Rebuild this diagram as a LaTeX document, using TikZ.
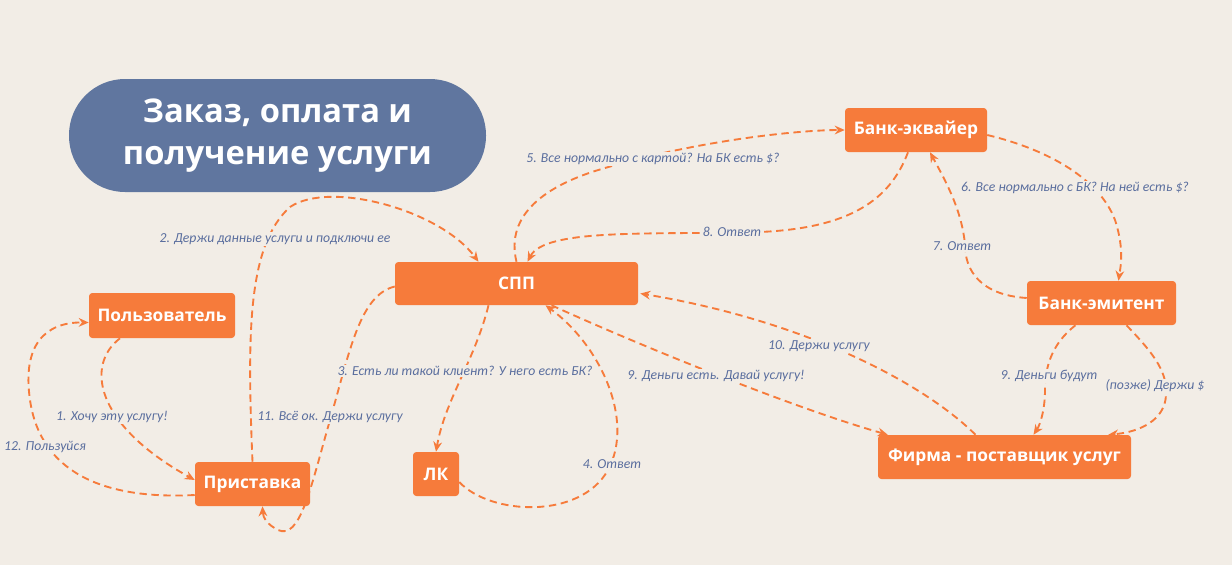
\documentclass[tikz,border=0pt]{standalone}
\usepackage{fontspec}
\setmainfont{Carlito}
\newfontfamily\boxfont{Open Sans}
\usetikzlibrary{calc,arrows.meta}
\definecolor{bg}{HTML}{F2EDE6}
\definecolor{org}{HTML}{F67B3B}
\definecolor{ttl}{HTML}{60769F}
\definecolor{lbl}{HTML}{5A6E9E}
\tikzset{
  box/.style={fill=org,rounded corners=2.5pt,inner sep=0pt,text=white,font=\boxfont\bfseries\fontsize{13}{15}\selectfont},
  conn/.style={draw=org,line width=1.4pt,dash pattern=on 5.5pt off 3.5pt,-{Stealth[length=7.5pt,width=6.5pt]}},
  lab/.style={fill=bg,inner sep=1pt,text=lbl,font=\itshape\fontsize{10.3}{12}\selectfont}
}
\begin{document}
\begin{tikzpicture}[x=0.75pt,y=-0.75pt]
\fill[bg] (0,0) rectangle (1232,565);
\useasboundingbox (0,0) rectangle (1232,565);
% title
\node[fill=ttl,rounded corners=42pt,minimum width={417*0.75pt},minimum height={113*0.75pt},inner sep=0pt,text=white,align=center,font=\boxfont\bfseries\fontsize{24.5}{32}\selectfont] (title) at (277.5,135.5) {Заказ, оплата и\\получение услуги};
% nodes
\node[box,minimum width={243*0.75pt},minimum height={43*0.75pt}] (spp) at (516.5,283.5) {СПП};
\node[box,minimum width={146*0.75pt},minimum height={45*0.75pt}] (user) at (162,315.5) {Пользователь};
\node[box,minimum width={115*0.75pt},minimum height={44*0.75pt}] (box) at (252.5,484) {Приставка};
\node[box,minimum width={46*0.75pt},minimum height={44*0.75pt}] (lk) at (436,474) {ЛК};
\node[box,minimum width={142*0.75pt},minimum height={44*0.75pt}] (banka) at (916,130) {Банк-эквайер};
\node[box,minimum width={149*0.75pt},minimum height={44*0.75pt}] (bankb) at (1101.5,303) {Банк-эмитент};
\node[box,minimum width={253*0.75pt},minimum height={44*0.75pt}] (firm) at (1004.5,457) {Фирма - поставщик услуг};
% connectors
\draw[conn] ($(user.south)+(-42,0)$) .. controls (85,365) and (95,425) .. ($(box.west)+(0,-4)$);
\draw[conn] ($(box.west)+(0,11)$) .. controls (100,500) and (40,470) .. (30,400) .. controls (22,345) and (45,322) .. ($(user.west)+(0,7)$);
\draw[conn] (box.north) .. controls (247,330) and (248,245) .. (290,207) .. controls (330,180) and (440,210) .. ($(spp.north)+(-38,0)$);
\draw[conn] ($(spp.south)+(-28,0)$) .. controls (475,360) and (445,400) .. (lk.north);
\draw[conn] ($(lk.east)+(0,8)$) .. controls (490,515) and (580,520) .. (608,470) .. controls (635,420) and (600,345) .. ($(spp.south)+(29,0)$);
\draw[conn] ($(spp.west)+(0,3)$) .. controls (360,295) and (350,350) .. (330,420) .. controls (310,490) and (300,540) .. (278,530) .. controls (268,525) and (263,518) .. ($(box.south)+(10,0)$);
\draw[conn] (spp.north) .. controls (505,215) and (545,185) .. (605,168) .. controls (700,140) and (800,130) .. (banka.west);
\draw[conn] ($(banka.east)+(0,5)$) .. controls (1050,150) and (1100,180) .. (1115,220) .. controls (1125,250) and (1120,270) .. ($(bankb.north)+(17,0)$);
\draw[conn] ($(bankb.west)+(0,-5)$) .. controls (980,295) and (965,270) .. (965,245) .. controls (962,210) and (945,180) .. ($(banka.south)+(14,0)$);
\draw[conn] ($(banka.south)+(-8,0)$) .. controls (890,200) and (850,228) .. (760,232) .. controls (650,235) and (545,228) .. ($(spp.north)+(11,0)$);
\draw[conn] ($(spp.south)+(35,0)$) .. controls (650,350) and (800,410) .. ($(firm.north west)+(10,0)$);
\draw[conn] ($(firm.north)+(-29,0)$) .. controls (920,380) and (800,320) .. ($(spp.east)+(2,10)$);
\draw[conn] ($(bankb.south)+(-26,0)$) .. controls (1050,345) and (1045,370) .. (1045,390) .. controls (1045,410) and (1040,425) .. ($(firm.north)+(29,0)$);
\draw[conn] ($(bankb.south)+(25,0)$) .. controls (1150,350) and (1168,370) .. (1166,395) .. controls (1165,420) and (1140,432) .. ($(firm.north east)+(-23,0)$);
% labels
\node[lab] (l1) at (112,417) {1. Хочу эту услугу!};
\node[lab] (l12) at (45,447) {12. Пользуйся};
\node[lab] (l2) at (275,239) {2. Держи данные услуги и подключи ее};
\node[lab] (l3) at (465,371) {3. Есть ли такой клиент? У него есть БК?};
\node[lab] (l4) at (612,464) {4. Ответ};
\node[lab] (l11) at (330,417) {11. Всё ок. Держи услугу};
\node[lab] (l5) at (653,159) {5. Все нормально с картой? На БК есть \$?};
\node[lab] (l6) at (1075,188) {6. Все нормально с БК? На ней есть \$?};
\node[lab] (l7) at (962,246) {7. Ответ};
\node[lab] (l8) at (732,232) {8. Ответ};
\node[lab] (l9) at (716,376) {9. Деньги есть. Давай услугу!};
\node[lab] (l10) at (819,346) {10. Держи услугу};
\node[lab] (l9b) at (1049,376) {9. Деньги будут};
\node[lab] (l13) at (1155,386) {(позже) Держи \$};
\end{tikzpicture}
\end{document}
